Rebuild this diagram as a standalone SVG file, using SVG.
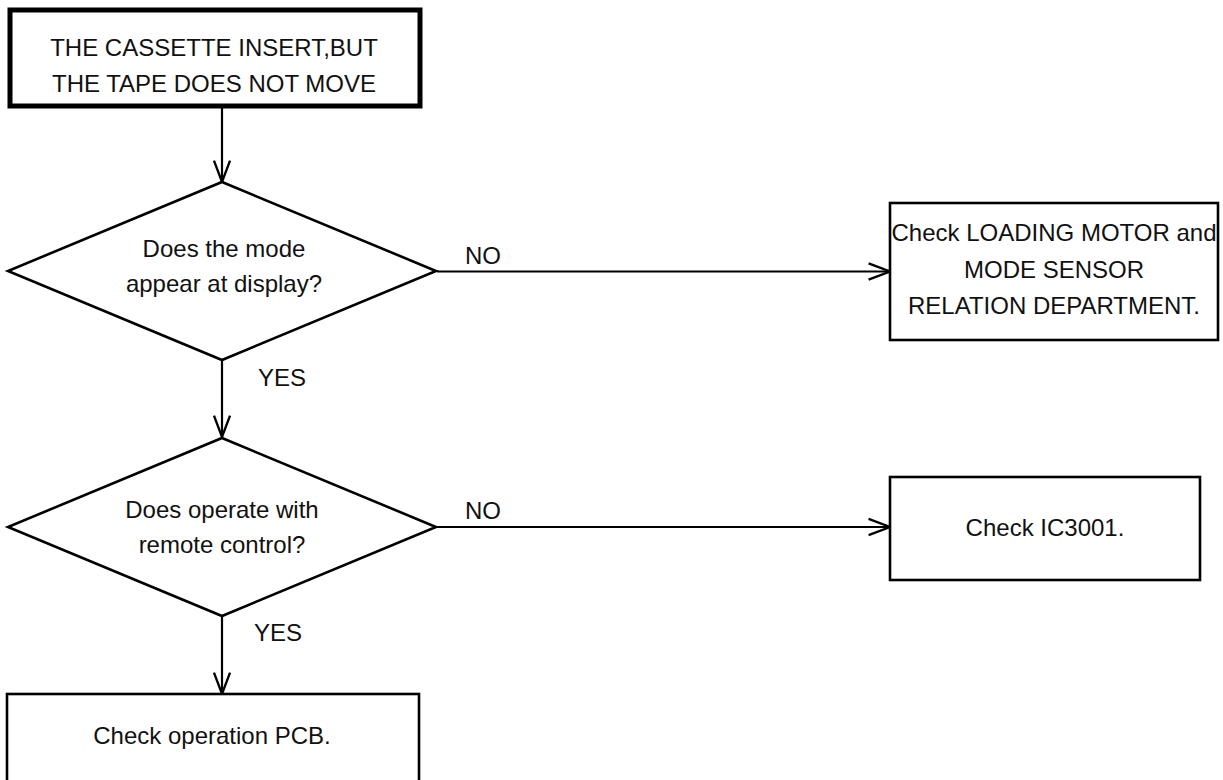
<svg xmlns="http://www.w3.org/2000/svg" width="1223" height="780" viewBox="0 0 1223 780">
<style>
text{font-family:"Liberation Sans",Arial,sans-serif;font-size:24px;fill:#111}
.c{text-anchor:middle}
.box{fill:#fff;stroke:#000;stroke-width:2.6}
.start{fill:#fff;stroke:#000;stroke-width:5}
.dia{fill:#fff;stroke:#000;stroke-width:2.6}
.conn line{stroke:#000;stroke-width:2.2;fill:none}
</style>
<defs>
<marker id="arr" markerUnits="userSpaceOnUse" markerWidth="30" markerHeight="30" refX="0" refY="0" viewBox="-24 -12 28 24" orient="auto" overflow="visible">
<path d="M -20 -7.5 L 0 0 L -20 7.5" fill="none" stroke="#000" stroke-width="2.2"/>
</marker>
</defs>
<rect width="1223" height="780" fill="#fff"/>
<g class="conn" id="connectors">
<line x1="222" y1="108" x2="222" y2="182" marker-end="url(#arr)"/>
<line x1="222" y1="360" x2="222" y2="437" marker-end="url(#arr)"/>
<line x1="222" y1="616" x2="222" y2="694" marker-end="url(#arr)"/>
<line x1="437" y1="271.5" x2="890" y2="271.5" marker-end="url(#arr)"/>
<line x1="437" y1="527" x2="890" y2="527" marker-end="url(#arr)"/>
<text x="465" y="264">NO</text>
<text x="465" y="519">NO</text>
<text x="258" y="386">YES</text>
<text x="254" y="641">YES</text>
</g>
<g id="start">
<rect class="start" x="10" y="10" width="410" height="96"/>
<text class="c" x="214" y="56">THE CASSETTE INSERT,BUT</text>
<text class="c" x="214" y="92">THE TAPE DOES NOT MOVE</text>
</g>
<g id="q1">
<polygon class="dia" points="222,182 436,271 222,360 8,271"/>
<text class="c" x="224" y="257">Does the mode</text>
<text class="c" x="224" y="292">appear at display?</text>
</g>
<g id="q2">
<polygon class="dia" points="222,438 436,527 222,616 8,527"/>
<text class="c" x="222" y="518">Does operate with</text>
<text class="c" x="222" y="553">remote control?</text>
</g>
<g id="loading">
<rect class="box" x="890" y="203" width="328" height="137"/>
<text class="c" x="1054" y="241">Check LOADING MOTOR and</text>
<text class="c" x="1054" y="278">MODE SENSOR</text>
<text class="c" x="1054" y="314">RELATION DEPARTMENT.</text>
</g>
<g id="ic3001">
<rect class="box" x="890" y="477" width="310" height="103"/>
<text class="c" x="1045" y="536">Check IC3001.</text>
</g>
<g id="pcb">
<rect class="box" x="7" y="694" width="412" height="100"/>
<text class="c" x="212" y="744">Check operation PCB.</text>
</g>
</svg>
